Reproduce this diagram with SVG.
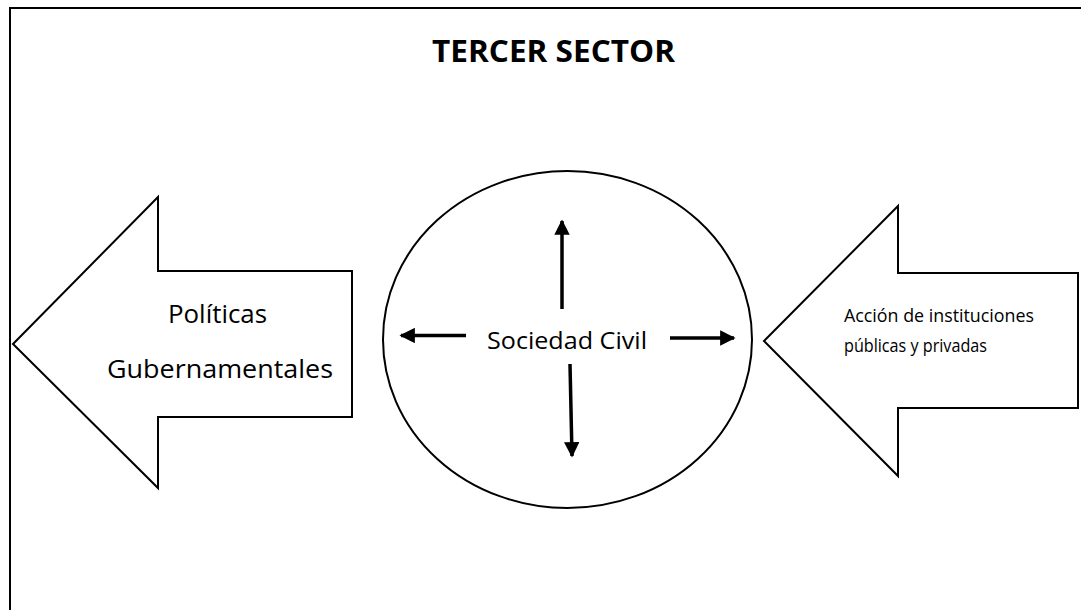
<svg xmlns="http://www.w3.org/2000/svg" width="1081" height="610" viewBox="0 0 1081 610">
  <style>
    .frame { fill: none; stroke: #000; stroke-width: 2; }
    .shape { fill: #fff; stroke: #000; stroke-width: 2; stroke-linejoin: miter; }
    .link { stroke: #000; stroke-width: 3.5; fill: none; }
    .lbl { font-family: "Open Sans", "Noto Sans", sans-serif; fill: #000; }
    .title { font-family: "Open Sans", "Noto Sans", sans-serif; font-weight: bold; font-size: 30px; fill: #000; }
  </style>
  <defs>
    <marker id="head" viewBox="0 0 10 10" refX="9" refY="5" markerWidth="4.4" markerHeight="4.4" orient="auto" markerUnits="strokeWidth">
      <path d="M0,0 L10,5 L0,10 Z" fill="#000"/>
    </marker>
  </defs>

  <rect x="0" y="0" width="1081" height="610" fill="#fff"/>

  <!-- outer frame (open at the bottom and right) -->
  <path class="frame" d="M10,610 L10,8 L1081,8"/>

  <text class="title" x="432" y="62" textLength="243" lengthAdjust="spacingAndGlyphs">TERCER SECTOR</text>

  <!-- left block arrow -->
  <g id="politicas">
    <path class="shape" d="M13,344 L158,197 L158,271 L352,271 L352,417 L158,417 L158,488 Z"/>
    <text class="lbl" x="168" y="323" font-size="26" textLength="99" lengthAdjust="spacingAndGlyphs">Políticas</text>
    <text class="lbl" x="107" y="378" font-size="26" textLength="226" lengthAdjust="spacingAndGlyphs">Gubernamentales</text>
  </g>

  <!-- central circle -->
  <g id="sociedad">
    <ellipse class="shape" cx="567.5" cy="339.5" rx="184.5" ry="168.5"/>
    <text class="lbl" x="487" y="349" font-size="24" textLength="160" lengthAdjust="spacingAndGlyphs">Sociedad Civil</text>
  </g>

  <!-- right block arrow -->
  <g id="accion">
    <path class="shape" d="M764,341 L898,206 L898,273 L1078,273 L1078,408 L898,408 L898,476 Z"/>
    <text class="lbl" x="844" y="322" font-size="18" textLength="190" lengthAdjust="spacingAndGlyphs">Acción de instituciones</text>
    <text class="lbl" x="844" y="352" font-size="18" textLength="143" lengthAdjust="spacingAndGlyphs">públicas y privadas</text>
  </g>

  <!-- connectors radiating from the centre -->
  <g id="connectors">
    <line class="link" x1="562" y1="309" x2="562" y2="221" marker-end="url(#head)"/>
    <line class="link" x1="466" y1="335.5" x2="401" y2="335.5" marker-end="url(#head)"/>
    <line class="link" x1="670" y1="338" x2="734" y2="338" marker-end="url(#head)"/>
    <line class="link" x1="570" y1="364" x2="572" y2="456" marker-end="url(#head)"/>
  </g>
</svg>
